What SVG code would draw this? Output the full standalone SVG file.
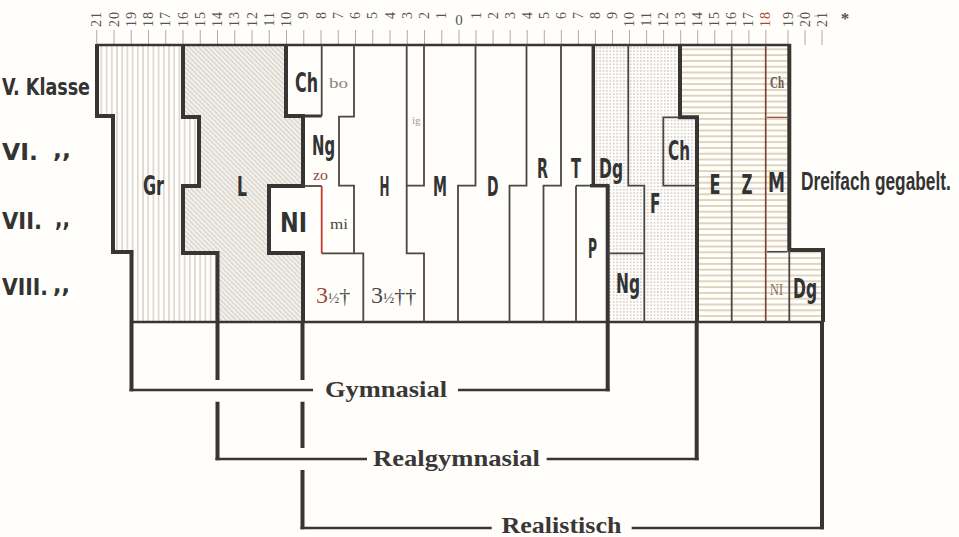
<svg xmlns="http://www.w3.org/2000/svg" width="959" height="537" viewBox="0 0 959 537">
<defs>
<pattern id="pv" width="5.2" height="10" patternUnits="userSpaceOnUse"><line x1="2.6" y1="0" x2="2.6" y2="10" stroke="#bdb6ac" stroke-width="0.9"/></pattern>
<pattern id="pd" width="3.4" height="10" patternUnits="userSpaceOnUse" patternTransform="rotate(-45)"><line x1="1.7" y1="0" x2="1.7" y2="10" stroke="#c3bcb2" stroke-width="0.85"/></pattern>
<pattern id="pt" width="3.4" height="3.3" patternUnits="userSpaceOnUse"><circle cx="1.7" cy="1.65" r="0.6" fill="#8e8a86"/></pattern>
<pattern id="ph" width="10" height="5.8" patternUnits="userSpaceOnUse"><line x1="0" y1="2.9" x2="10" y2="2.9" stroke="#c4b38d" stroke-width="1.1"/></pattern>
</defs>
<style>
.k{stroke:#383634;stroke-width:4;fill:none}
.t{stroke:#4a4745;stroke-width:1.8;fill:none}
.lab{font-family:"Liberation Sans Narrow","DejaVu Sans Condensed","Liberation Sans",sans-serif;font-weight:bold;font-size:26px;fill:#333}
.row{font-family:"Liberation Sans Narrow","DejaVu Sans Condensed","Liberation Sans",sans-serif;font-weight:bold;font-size:23px;fill:#333}
.ser{font-family:"Liberation Serif","DejaVu Serif",serif}
.num{font-family:"Liberation Serif","DejaVu Serif",serif;font-size:14px;fill:#555;letter-spacing:1px}
.br{font-family:"Liberation Serif","DejaVu Serif",serif;font-weight:bold;font-size:24px;fill:#3a3836}
.tick{stroke:#9a9692;stroke-width:0.8}
.bv{stroke:#383634;stroke-width:4;fill:none}
.bh{stroke:#383634;stroke-width:2.6;fill:none}
</style>
<rect width="959" height="537" fill="#fffefb"/>

<g id="ruler">
<g class="tick">
<line x1="96.75" y1="30" x2="96.75" y2="45"/><line x1="114" y1="30" x2="114" y2="45"/><line x1="131.25" y1="30" x2="131.25" y2="45"/><line x1="148.5" y1="30" x2="148.5" y2="45"/><line x1="165.75" y1="30" x2="165.75" y2="45"/><line x1="183" y1="30" x2="183" y2="45"/><line x1="200.25" y1="30" x2="200.25" y2="45"/><line x1="217.5" y1="30" x2="217.5" y2="45"/><line x1="234.75" y1="30" x2="234.75" y2="45"/><line x1="252" y1="30" x2="252" y2="45"/><line x1="269.25" y1="30" x2="269.25" y2="45"/><line x1="286.5" y1="30" x2="286.5" y2="45"/><line x1="303.75" y1="30" x2="303.75" y2="45"/><line x1="321" y1="30" x2="321" y2="45"/><line x1="338.25" y1="30" x2="338.25" y2="45"/><line x1="355.5" y1="30" x2="355.5" y2="45"/><line x1="372.75" y1="30" x2="372.75" y2="45"/><line x1="390" y1="30" x2="390" y2="45"/><line x1="407.25" y1="30" x2="407.25" y2="45"/><line x1="424.5" y1="30" x2="424.5" y2="45"/><line x1="441.75" y1="30" x2="441.75" y2="45"/><line x1="459" y1="30" x2="459" y2="45"/>
<line x1="476" y1="30" x2="476" y2="45"/><line x1="493.1" y1="30" x2="493.1" y2="45"/><line x1="510.2" y1="30" x2="510.2" y2="45"/><line x1="527.2" y1="30" x2="527.2" y2="45"/><line x1="544.3" y1="30" x2="544.3" y2="45"/><line x1="561.3" y1="30" x2="561.3" y2="45"/><line x1="578.4" y1="30" x2="578.4" y2="45"/><line x1="595.4" y1="30" x2="595.4" y2="45"/><line x1="612.5" y1="30" x2="612.5" y2="45"/><line x1="629.5" y1="30" x2="629.5" y2="45"/><line x1="646.6" y1="30" x2="646.6" y2="45"/><line x1="663.6" y1="30" x2="663.6" y2="45"/><line x1="680.7" y1="30" x2="680.7" y2="45"/><line x1="697.7" y1="30" x2="697.7" y2="45"/><line x1="714.8" y1="30" x2="714.8" y2="45"/><line x1="731.8" y1="30" x2="731.8" y2="45"/><line x1="748.9" y1="30" x2="748.9" y2="45"/><line x1="765.9" y1="30" x2="765.9" y2="45"/><line x1="788" y1="30" x2="788" y2="45"/><line x1="805" y1="30" x2="805" y2="45"/><line x1="822" y1="30" x2="822" y2="45"/>
<line x1="797" y1="16" x2="802" y2="16"/><line x1="814" y1="16" x2="819" y2="16"/>
</g>
<g class="num" text-anchor="end">
<text transform="translate(101.25,11) rotate(-90)">21</text>
<text transform="translate(118.5,11) rotate(-90)">20</text>
<text transform="translate(135.75,11) rotate(-90)">19</text>
<text transform="translate(153,11) rotate(-90)">18</text>
<text transform="translate(170.25,11) rotate(-90)">17</text>
<text transform="translate(187.5,11) rotate(-90)">16</text>
<text transform="translate(204.75,11) rotate(-90)">15</text>
<text transform="translate(222,11) rotate(-90)">14</text>
<text transform="translate(239.25,11) rotate(-90)">13</text>
<text transform="translate(256.5,11) rotate(-90)">12</text>
<text transform="translate(273.75,11) rotate(-90)">11</text>
<text transform="translate(291,11) rotate(-90)">10</text>
<text transform="translate(308.25,11) rotate(-90)">9</text>
<text transform="translate(325.5,11) rotate(-90)">8</text>
<text transform="translate(342.75,11) rotate(-90)">7</text>
<text transform="translate(360,11) rotate(-90)">6</text>
<text transform="translate(377.25,11) rotate(-90)">5</text>
<text transform="translate(394.5,11) rotate(-90)">4</text>
<text transform="translate(411.75,11) rotate(-90)">3</text>
<text transform="translate(429,11) rotate(-90)">2</text>
<text transform="translate(446.25,11) rotate(-90)">1</text>
<text transform="translate(480.5,11) rotate(-90)">1</text>
<text transform="translate(497.6,11) rotate(-90)">2</text>
<text transform="translate(514.7,11) rotate(-90)">3</text>
<text transform="translate(531.7,11) rotate(-90)">4</text>
<text transform="translate(548.8,11) rotate(-90)">5</text>
<text transform="translate(565.8,11) rotate(-90)">6</text>
<text transform="translate(582.9,11) rotate(-90)">7</text>
<text transform="translate(599.9,11) rotate(-90)">8</text>
<text transform="translate(617,11) rotate(-90)">9</text>
<text transform="translate(634,11) rotate(-90)">10</text>
<text transform="translate(651.1,11) rotate(-90)">11</text>
<text transform="translate(668.1,11) rotate(-90)">12</text>
<text transform="translate(685.2,11) rotate(-90)">13</text>
<text transform="translate(702.2,11) rotate(-90)">14</text>
<text transform="translate(719.3,11) rotate(-90)">15</text>
<text transform="translate(736.3,11) rotate(-90)">16</text>
<text transform="translate(753.4,11) rotate(-90)">17</text>
<text transform="translate(770.4,11) rotate(-90)" fill="#b5432e">18</text>
<text transform="translate(792.5,11) rotate(-90)">19</text>
<text transform="translate(809.5,11) rotate(-90)">20</text>
<text transform="translate(826.5,11) rotate(-90)">21</text>
</g>
<text class="ser" x="459" y="25" text-anchor="middle" font-size="15" fill="#555">0</text>
<text class="ser" x="845" y="24" text-anchor="middle" font-size="17" font-weight="bold" fill="#555">*</text>
</g>

<g id="fills">
<polygon points="97,45 183,45 183,117 199,117 199,186 183,186 183,253 217.5,253 217.5,322 131.5,322 131.5,252 113,252 113,116 97,116" fill="url(#pv)"/>
<polygon points="183,45 286,45 286,116 303,116 303,186 269,186 269,253 303,253 303,322 217.5,322 217.5,253 183,253 183,186 199,186 199,117 183,117" fill="#f4f2ed"/>
<polygon points="183,45 286,45 286,116 303,116 303,186 269,186 269,253 303,253 303,322 217.5,322 217.5,253 183,253 183,186 199,186 199,117 183,117" fill="url(#pd)"/>
<polygon points="593,45 680,45 680,117 697,117 697,322 607.7,322 607.7,185.7 593,185.7" fill="url(#pt)"/>
<polygon points="680,45 789,45 789,250 823,250 823,322 697,322 697,117 680,117" fill="url(#ph)"/>
</g>

<g id="frame">
<path d="M97,45 H791" stroke="#383634" stroke-width="2.6" fill="none"/>
<path d="M131.5,322 H823" stroke="#383634" stroke-width="2.6" fill="none"/>
</g>

<g id="Gr">
<path class="k" d="M97,44 V116 H113 V252 H131.5 V322"/>
<text class="lab" x="143" y="195" textLength="21" lengthAdjust="spacingAndGlyphs">Gr</text>
</g>
<g id="L">
<path class="k" d="M183,44 V117 H199 V186 H183 V253 H217.5 V322"/>
<text class="lab" x="237" y="196" textLength="10" lengthAdjust="spacingAndGlyphs">L</text>
</g>
<g id="Ch-left">
<path class="k" d="M286,44 V116 H303 V186 H269 V253 H303 V322"/>
<path d="M303,116 H321.7" stroke="#383634" stroke-width="3" fill="none"/>
<path class="t" d="M321.7,45 V116"/>
<text class="lab" x="295" y="92" textLength="23" lengthAdjust="spacingAndGlyphs">Ch</text>
</g>
<g id="Ng-left">
<text class="lab" x="312" y="155" textLength="23" lengthAdjust="spacingAndGlyphs">Ng</text>
<text class="ser" x="313" y="180" font-size="14" fill="#8a4535" textLength="15" lengthAdjust="spacingAndGlyphs">zo</text>
</g>
<g id="NI-left">
<path class="t" d="M303,186 H321.7"/>
<path d="M321.7,186 V253.3" stroke="#c8392b" stroke-width="1.8" fill="none"/>
<text class="lab" x="280" y="232" textLength="27" lengthAdjust="spacingAndGlyphs">NI</text>
</g>
<g id="bo-mi">
<path class="t" d="M354,45 V116.7 H339 V185.7 H354 V253.3 H363.3 V322"/>
<path class="t" d="M321.7,253.3 H354"/>
<text class="ser" x="329" y="88" font-size="15" fill="#8a8580" textLength="19" lengthAdjust="spacingAndGlyphs">bo</text>
<text class="ser" x="330" y="229" font-size="15" fill="#4a4745" textLength="18" lengthAdjust="spacingAndGlyphs">mi</text>
<text class="ser" x="316" y="303" fill="#555"><tspan font-size="24" fill="#a04a35">3</tspan><tspan font-size="15">½</tspan><tspan font-size="22">†</tspan></text>
</g>
<g id="H">
<path class="t" d="M406.7,45 V253.3 H424 V322"/>
<text class="lab" x="379.5" y="196" textLength="10" lengthAdjust="spacingAndGlyphs">H</text>
<text class="ser" x="371" y="303" fill="#4a4745"><tspan font-size="24">3</tspan><tspan font-size="15">½</tspan><tspan font-size="22">††</tspan></text>
</g>
<g id="ig">
<path class="t" d="M424,45 V185.7 H406.7"/>
<text class="ser" x="412" y="124" font-size="11" fill="#a09a95">ig</text>
</g>
<g id="M-left">
<path class="t" d="M475.5,45 V185.7 H458 V322"/>
<text class="lab" x="433" y="196" textLength="14" lengthAdjust="spacingAndGlyphs">M</text>
</g>
<g id="D">
<path class="t" d="M526.5,45 V185.7 H509.5 V322"/>
<text class="lab" x="487" y="196" textLength="11.5" lengthAdjust="spacingAndGlyphs">D</text>
</g>
<g id="R">
<path class="t" d="M561,45 V185.7 H543.5 V322"/>
<text class="lab" x="537" y="178" textLength="11" lengthAdjust="spacingAndGlyphs">R</text>
</g>
<g id="T">
<path d="M593.3,45 V185.7" stroke="#383634" stroke-width="3.5" fill="none"/>
<text class="lab" x="571" y="178" textLength="10" lengthAdjust="spacingAndGlyphs">T</text>
</g>
<g id="P">
<path class="t" d="M576,185.7 H592 M576,185.7 V322"/>
<path d="M590,185.7 H609.5" stroke="#383634" stroke-width="3.5" fill="none"/>
<path class="k" d="M607.7,185.7 V322"/>
<text class="lab" x="588" y="258" textLength="9" lengthAdjust="spacingAndGlyphs">P</text>
</g>
<g id="Dg">
<path class="t" d="M628.3,45 V185.7 H644.3 V322"/>
<text class="lab" x="599" y="178" textLength="24" lengthAdjust="spacingAndGlyphs">Dg</text>
</g>
<g id="Ng-right">
<path class="t" d="M607.7,253.3 H644.3"/>
<text class="lab" x="616" y="293" textLength="24" lengthAdjust="spacingAndGlyphs">Ng</text>
</g>
<g id="F">
<path class="k" d="M680,44 V117.3 H697 V322"/>
<text class="lab" x="650" y="213" textLength="10.5" lengthAdjust="spacingAndGlyphs">F</text>
</g>
<g id="Ch-right">
<path class="t" d="M680,117.3 H663.3 V185.7 H697"/>
<text class="lab" x="668" y="160" textLength="22" lengthAdjust="spacingAndGlyphs">Ch</text>
</g>
<g id="E">
<path class="t" d="M731.7,45 V322"/>
<text class="lab" x="709.5" y="194" textLength="11" lengthAdjust="spacingAndGlyphs">E</text>
</g>
<g id="Z">
<path d="M765.7,45 V322" stroke="#7a3b2e" stroke-width="1.6" fill="none"/>
<text class="lab" x="741.5" y="194" textLength="11" lengthAdjust="spacingAndGlyphs">Z</text>
</g>
<g id="M-right">
<path class="k" d="M789.3,44 V250 H823 V322"/>
<path d="M767,117.3 H787" stroke="#a0503a" stroke-width="1.3" fill="none"/>
<path d="M767,251.7 H787" stroke="#444" stroke-width="1.5" fill="none"/>
<text class="ser" x="770" y="88" font-size="17" font-weight="bold" fill="#6b5646" textLength="14" lengthAdjust="spacingAndGlyphs">Ch</text>
<text class="lab" x="768" y="191.5" textLength="17" lengthAdjust="spacingAndGlyphs">M</text>
<text class="ser" x="770" y="295" font-size="17" fill="#8a7058" textLength="13" lengthAdjust="spacingAndGlyphs">NI</text>
</g>
<g id="Dg-right">
<path class="t" d="M789.3,250 V322"/>
<text class="lab" x="793" y="298" textLength="24" lengthAdjust="spacingAndGlyphs">Dg</text>
</g>
<g id="Dreifach">
<text transform="translate(801,190) scale(0.72,1)" font-family="'Liberation Sans', Arial, sans-serif" font-weight="bold" font-size="25" fill="#333" textLength="208" lengthAdjust="spacingAndGlyphs">Dreifach gegabelt.</text>
</g>

<g id="rows">
<text class="row" x="2" y="95" textLength="88" lengthAdjust="spacingAndGlyphs">V. Klasse</text>
<text class="row" x="2" y="160" textLength="36" lengthAdjust="spacingAndGlyphs">VI.</text>
<text class="row" x="53" y="158" textLength="18" lengthAdjust="spacingAndGlyphs">,,</text>
<text class="row" x="2" y="229" textLength="40" lengthAdjust="spacingAndGlyphs">VII.</text>
<text class="row" x="55" y="227" textLength="15" lengthAdjust="spacingAndGlyphs">,,</text>
<text class="row" x="2" y="295" textLength="46" lengthAdjust="spacingAndGlyphs">VIII.</text>
<text class="row" x="53" y="293" textLength="17" lengthAdjust="spacingAndGlyphs">,,</text>
</g>

<g id="connectors">
<path class="bv" d="M131.5,322 V391.3"/>
<path class="bh" d="M129.5,390 H313 M458,390 H609.7"/>
<path class="bv" d="M607.7,322 V391.3"/>
<path class="bv" d="M217.5,322 V380 M217.5,401.7 V460.3"/>
<path class="bh" d="M215.5,459 H367 M546.7,459 H698.7"/>
<path class="bv" d="M696.7,322 V460.3"/>
<path class="bv" d="M302.5,322 V380 M302.5,401.7 V448 M302.5,470 V529.3"/>
<path class="bh" d="M300.5,528 H491.7 M631.7,528 H824"/>
<path class="bv" d="M822,322 V529.3"/>
</g>
<g id="bracket-labels">
<text class="br" x="325" y="397" textLength="122" lengthAdjust="spacingAndGlyphs">Gymnasial</text>
<text class="br" x="373" y="466" textLength="167" lengthAdjust="spacingAndGlyphs">Realgymnasial</text>
<text class="br" x="501.5" y="533" font-size="23" textLength="120" lengthAdjust="spacingAndGlyphs">Realistisch</text>
</g>
</svg>
